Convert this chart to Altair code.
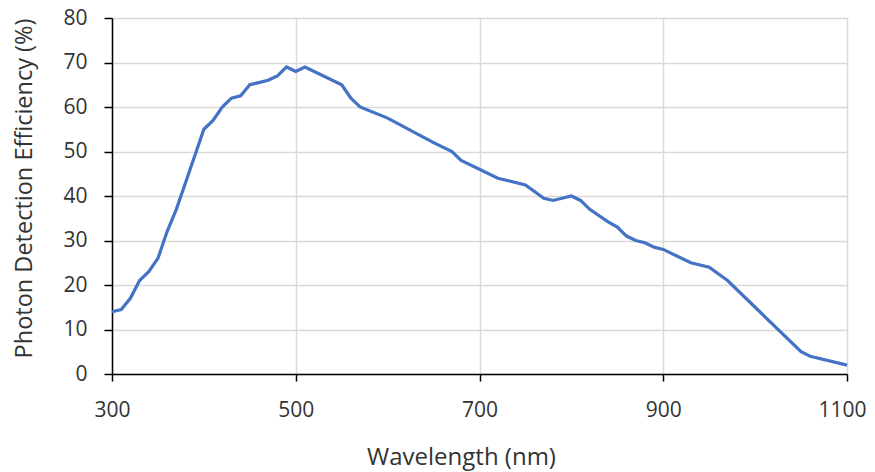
import altair as alt
import pandas as pd

wavelength = [300, 310, 320, 330, 340, 350, 360, 370, 380, 390, 400, 410, 420, 430, 440,
              450, 470, 480, 490, 500, 510, 550, 560, 570, 600, 650, 670, 680, 720, 750,
              770, 780, 800, 810, 820, 840, 850, 860, 870, 880, 890, 900, 930, 950, 970,
              1000, 1050, 1060, 1100]
pde = [14.0, 14.5, 17.0, 21.0, 23.0, 26.0, 32.0, 37.0, 43.0, 49.0, 55.0, 57.0, 60.0, 62.0, 62.5,
       65.0, 66.0, 67.0, 69.0, 68.0, 69.0, 65.0, 62.0, 60.0, 57.5, 52.0, 50.0, 48.0, 44.0, 42.5,
       39.5, 39.0, 40.0, 39.0, 37.0, 34.2, 33.0, 31.0, 30.0, 29.5, 28.5, 28.0, 25.0, 24.0, 21.0,
       15.0, 5.0, 4.0, 2.0]

x_ticks = [300, 500, 700, 900, 1100]
y_ticks = [0, 10, 20, 30, 40, 50, 60, 70, 80]

df = pd.DataFrame({"wavelength": wavelength, "pde": pde})

FONT = "Open Sans"
TEXT = "#333333"

chart = alt.Chart(df).mark_line(color="#4472C4", strokeWidth=3.2).encode(
    x=alt.X("wavelength:Q",
            scale=alt.Scale(domain=[300, 1100], nice=False, zero=False),
            axis=alt.Axis(title="Wavelength (nm)", values=x_ticks, grid=True, format="d",
                          labelFlush=False, labelOverlap=False,
                          labelOffset={"condition": {"test": "datum.value == 1100", "value": -5},
                                       "value": 0},
                          gridColor="#d9d9d9", gridWidth=1.5,
                          domainColor="#000000", domainWidth=1.5,
                          tickColor="#000000", tickWidth=1.5, tickSize=7,
                          labelPadding=18, labelFont=FONT, labelFontSize=21,
                          labelColor=TEXT, titleFont=FONT, titleFontSize=24,
                          titleFontWeight="normal", titleColor=TEXT,
                          titleX=349, titleY=83, titleBaseline="middle",
                          titleAlign="center")),
    y=alt.Y("pde:Q",
            scale=alt.Scale(domain=[0, 80], nice=False),
            axis=alt.Axis(title="Photon Detection Efficiency (%)", values=y_ticks,
                          grid=True, gridColor="#d9d9d9", gridWidth=1.5,
                          labelFlush=False, labelOverlap=False,
                          domainColor="#000000", domainWidth=1.5,
                          tickColor="#000000", tickWidth=1.5, tickSize=8,
                          labelPadding=17, labelFont=FONT, labelFontSize=21,
                          labelColor=TEXT, titleFont=FONT, titleFontSize=23.5,
                          titleFontWeight="normal", titleColor=TEXT,
                          titleX=-88, titleY=170, titleBaseline="middle",
                          titleAlign="center", titleAngle=-90)),
).properties(
    width=735, height=356,
    autosize=alt.AutoSizeParams(type="none"),
    padding={"left": 104, "top": 10, "right": 20, "bottom": 100},
).configure_view(stroke=None)

chart.save("out.html", embed_options={"renderer": "svg", "actions": False})
